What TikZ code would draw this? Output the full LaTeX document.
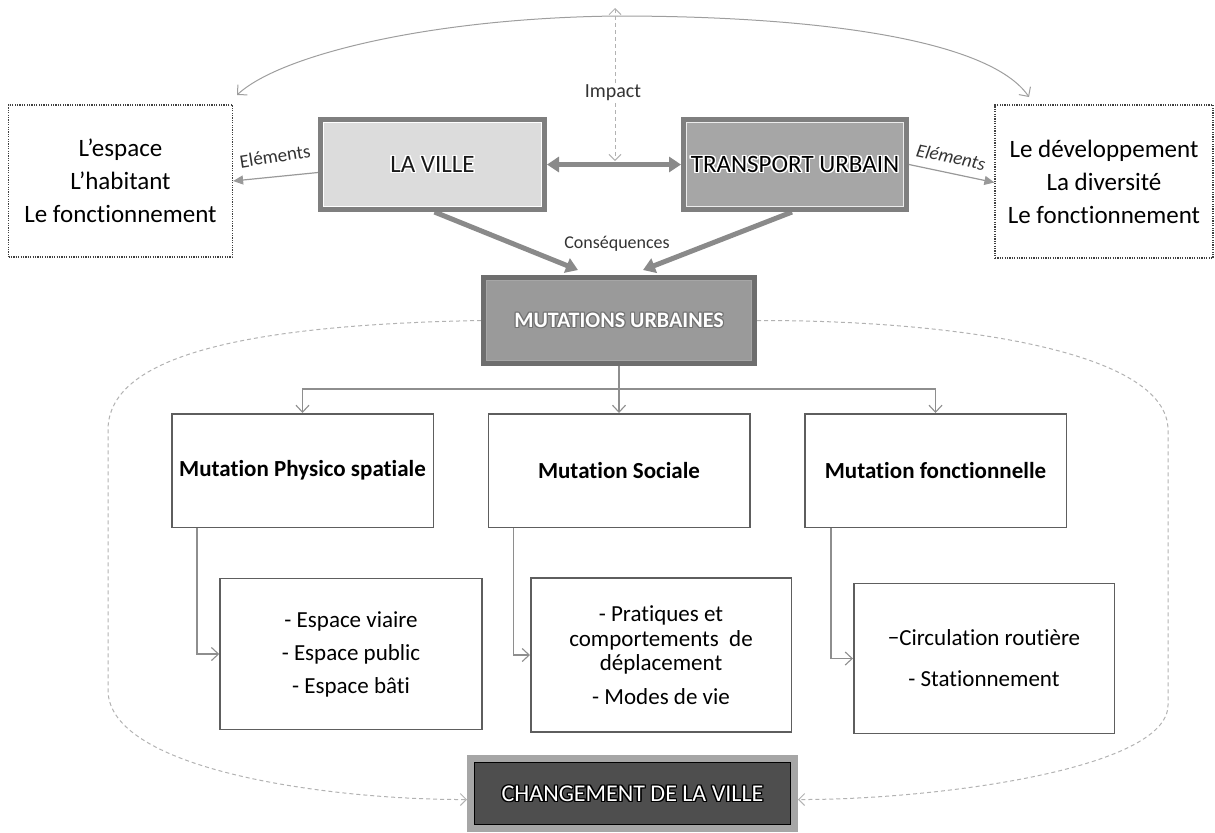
\documentclass[tikz,border=0pt]{standalone}
\usepackage{fontspec}
\setmainfont{Carlito}[Ligatures=NoCommon]
\usetikzlibrary{arrows.meta,calc,backgrounds}
\definecolor{cline}{HTML}{8E8E8E}
\definecolor{fatc}{HTML}{8A8A8A}
\definecolor{dashc}{HTML}{B2B2B2}
\definecolor{villefill}{HTML}{DCDCDC}
\definecolor{transfill}{HTML}{A6A6A6}
\definecolor{mutfill}{HTML}{9A9A9A}
\definecolor{chfill}{HTML}{4E4E4E}
\definecolor{bord}{HTML}{7F7F7F}
\definecolor{boxbord}{HTML}{5E5E5E}
\newcommand{\myglow}[3]{% #1 glow colour, #2 offset, #3 text
  \setbox0=\hbox{#3}%
  \rlap{\textcolor{#1}{\kern#2\copy0}}%
  \rlap{\textcolor{#1}{\kern-#2\copy0}}%
  \rlap{\textcolor{#1}{\raise#2\copy0}}%
  \rlap{\textcolor{#1}{\lower#2\copy0}}%
  \rlap{\textcolor{#1}{\kern#2\raise#2\copy0}}%
  \rlap{\textcolor{#1}{\kern-#2\raise#2\copy0}}%
  \rlap{\textcolor{#1}{\kern#2\lower#2\copy0}}%
  \rlap{\textcolor{#1}{\kern-#2\lower#2\copy0}}%
  \box0}
\tikzset{
  sidebox/.style={draw=black!75, dash pattern=on 0.6pt off 0.6pt, line width=0.6pt, align=center, inner sep=0pt, font=\fontsize{12.5}{16.5}\selectfont},
  headbox/.style={draw=bord, line width=2.5pt, inner sep=0pt, font=\fontsize{12.5}{14}\selectfont},
  mutbox/.style={draw=boxbord, line width=0.75pt, fill=white, inner sep=0pt, minimum width=130.75pt, minimum height=56.75pt, font=\bfseries\fontsize{11.5}{14}\selectfont},
  subbox/.style={draw=boxbord, line width=0.75pt, fill=white, align=center, inner sep=0pt, font=\fontsize{11.5}{16.5}\selectfont},
  conn/.style={draw=cline, line width=0.55pt, -{Straight Barb[length=3.5pt,width=6.5pt]}},
  fat/.style={draw=fatc, line width=2.5pt, -{Triangle[length=6pt,width=7.5pt]}},
  elem/.style={draw=black!40, line width=0.6pt, -{Triangle[length=5pt,width=4.5pt]}},
  impdash/.style={draw=dashc, line width=0.5pt, dash pattern=on 2pt off 1.5pt, -{Straight Barb[length=3pt,width=6pt]}},
  topcurve/.style={draw=black!38, line width=0.5pt, -{Straight Barb[length=3.5pt,width=7pt]}},
  bigloop/.style={draw=dashc, line width=0.5pt, dash pattern=on 2pt off 1.5pt, -{Straight Barb[length=3pt,width=6pt]}},
  lbl/.style={inner sep=1pt, text=black!80, font=\fontsize{9.5}{11}\selectfont},
}
\begin{document}
\begin{tikzpicture}[x=0.5pt,y=-0.5pt]
\useasboundingbox (0,0) rectangle (1215,832);

% side boxes
\node[sidebox, minimum width=112pt, minimum height=76pt] (lb) at (120.5,181) {L’espace\\L’habitant\\Le fonctionnement};
\node[sidebox, minimum width=109pt, minimum height=76.5pt] (rb) at (1104,181.5) {Le développement\\La diversité\\Le fonctionnement};

% head boxes
\node[headbox, fill=villefill, minimum width=112pt, minimum height=45pt, text=black!90] (lv) at (432.5,164.5) {\myglow{white}{0.7pt}{LA VILLE}};
\draw[white, line width=0.8pt] ([shift={(5.5,5.5)}]lv.north west) rectangle ([shift={(-5.5,-5.5)}]lv.south east);
\node[headbox, fill=transfill, minimum width=111.5pt, minimum height=45pt] (tu) at (795,164.5) {\myglow{white}{0.7pt}{TRANSPORT URBAIN}};
\draw[white!85!gray, line width=0.8pt] ([shift={(5.5,5.5)}]tu.north west) rectangle ([shift={(-5.5,-5.5)}]tu.south east);

\node[headbox, draw=black!57, fill=mutfill, minimum width=135.5pt, minimum height=43pt, text=white, font=\bfseries\fontsize{11}{13}\selectfont] (mu) at (619,320.5) {\myglow{black!55}{0.5pt}{MUTATIONS URBAINES}};
\draw[black!35, line width=0.6pt] ([shift={(5.5,5.5)}]mu.north west) rectangle ([shift={(-5.5,-5.5)}]mu.south east);

% mutation boxes
\node[mutbox] (m1) at (302.5,470.5) {Mutation Physico spatiale};
\node[mutbox] (m2) at (619,470.5) {Mutation Sociale};
\node[mutbox] (m3) at (935.5,470.5) {Mutation fonctionnelle};

% sub boxes
\node[subbox, minimum width=131pt, minimum height=75.5pt] (l1) at (351,654) {- Espace viaire\\- Espace public\\- Espace bâti};
\node[subbox, minimum width=130.25pt, minimum height=77pt, font=\fontsize{11.5}{12.3}\selectfont] (l2) at (661,655) {- Pratiques et\\comportements~~de\\déplacement\\[4.3pt]- Modes de vie};
\node[subbox, minimum width=130.25pt, minimum height=75pt] (l3) at (984,658.5) {−Circulation routière\\[4pt]- Stationnement};

% final box
\node[draw=black!35, line width=3.5pt, fill=chfill, inner sep=0pt, minimum width=162pt, minimum height=35pt, text=white, font=\fontsize{12}{14}\selectfont] (ch) at (632.5,793.5) {\myglow{black}{0.6pt}{CHANGEMENT DE LA VILLE}};
\draw[black, line width=0.7pt] ([shift={(7.5,7.5)}]ch.north west) rectangle ([shift={(-7.5,-7.5)}]ch.south east);

% labels
\node[lbl, rotate=9] (el1) at (275,156) {Eléments};
\node[lbl, rotate=-12, font=\itshape\fontsize{9.5}{11}\selectfont] (el2) at (951,157) {Eléments};
\node[lbl, font=\fontsize{9}{11}\selectfont] (cons) at (617,244) {Conséquences};
\node[lbl, font=\fontsize{10}{12}\selectfont] (imp) at (613,93) {Impact};

% coordinates
\coordinate (imptop) at (615,8);
\coordinate (impbot) at (615,161);
\coordinate (apex) at (617,16);
\coordinate (ctl) at (237,95);
\coordinate (ctr) at (1029,97);
\coordinate (bus) at (619,389);

\begin{scope}[on background layer]
% top curve
\draw[topcurve] (apex) .. controls (430,18) and (280,55) .. (ctl);
\draw[topcurve] (apex) .. controls (820,16) and (990,40) .. (ctr);
% impact
\draw[impdash] (imp.north -| imptop) -- (imptop);
\draw[impdash] (imp.south -| impbot) -- (impbot);
% thick arrows
\draw[fat, {Triangle[length=6pt,width=7.5pt]}-{Triangle[length=6pt,width=7.5pt]}] (lv.east) -- (tu.west);
\draw[fat] ([xshift=1pt]lv.south) -- ([xshift=-20.5pt,yshift=2.5pt]mu.north);
\draw[fat] ([xshift=-1.5pt]tu.south) -- ([xshift=12pt,yshift=2.5pt]mu.north);
% elements
\draw[elem] ([yshift=-4pt]lv.west) -- (lb.east);
\draw[elem] (tu.east) -- ([yshift=-0.5pt]rb.west);
% tree
\draw[conn] (mu.south) -- (bus) -| (m1.north);
\draw[conn] (bus) -| (m3.north);
\draw[conn] (bus) -- (m2.north);
\draw[conn] ([xshift=13pt]m1.south west) |- (l1.west);
\draw[conn] ([xshift=13pt]m2.south west) |- (l2.west);
\draw[conn] ([xshift=13.5pt]m3.south west) |- (l3.west);
% big loops
\draw[bigloop] (mu.west) .. controls (230,325) and (108,360) .. (108,430) -- (108,690) .. controls (108,770) and (330,800) .. ([yshift=-3pt]ch.west);
\draw[bigloop] (mu.east) .. controls (950,320) and (1168,350) .. (1168,430) -- (1168,705) .. controls (1168,770) and (930,800) .. ([yshift=-3pt]ch.east);
\end{scope}
\end{tikzpicture}
\end{document}
